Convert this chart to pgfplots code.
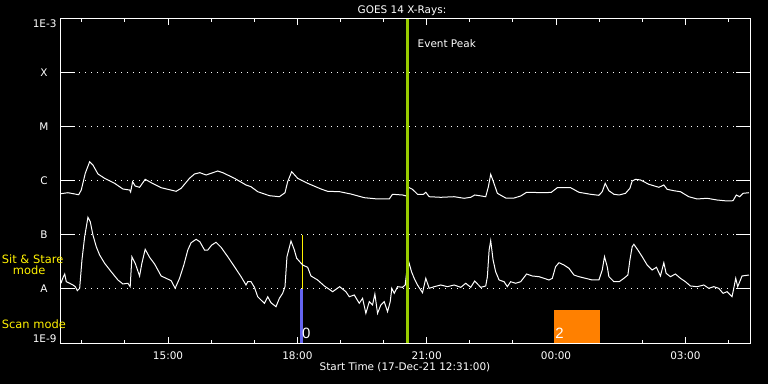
\documentclass[border=0pt]{standalone}
\usepackage{fontspec}
\setmainfont{DejaVu Sans}
\newfontfamily\digitfont{Liberation Sans}
\usepackage{pgfplots}
\pgfplotsset{compat=1.18}
\definecolor{evgreen}{RGB}{153,204,0}
\definecolor{barblue}{RGB}{100,100,240}
\definecolor{barorange}{RGB}{255,128,0}
\newcommand{\lab}{\fontsize{10.5}{12}\selectfont}
% x: hours since 17-Dec-21 00:00 ; y: log10 flux (W/m^2)
\pgfplotstableread{
h L
12.517 -6.235
12.679 -6.217
12.927 -6.254
12.987 -6.167
13.080 -5.857
13.182 -5.643
13.258 -5.704
13.374 -5.870
13.529 -5.950
13.761 -6.043
13.953 -6.148
14.108 -6.167
14.132 -6.204
14.178 -6.013
14.238 -6.093
14.340 -6.117
14.470 -5.969
14.609 -6.031
14.840 -6.124
15.188 -6.191
15.304 -6.135
15.498 -5.950
15.614 -5.870
15.737 -5.846
15.883 -5.889
16.154 -5.815
16.270 -5.846
16.541 -5.950
16.809 -6.074
16.925 -6.106
17.080 -6.198
17.351 -6.272
17.583 -6.291
17.713 -6.217
17.775 -6.013
17.868 -5.828
18.007 -5.950
18.239 -6.043
18.547 -6.148
18.702 -6.191
18.980 -6.198
19.242 -6.241
19.552 -6.309
19.860 -6.333
20.131 -6.333
20.207 -6.246
20.439 -6.259
20.532 -6.278
20.578 -6.117
20.671 -6.154
20.787 -6.246
20.926 -6.246
20.979 -6.209
21.058 -6.291
21.326 -6.302
21.637 -6.291
21.868 -6.320
22.021 -6.302
22.114 -6.259
22.223 -6.272
22.369 -6.291
22.431 -6.106
22.485 -5.876
22.547 -6.013
22.640 -6.228
22.832 -6.315
23.027 -6.315
23.180 -6.278
23.318 -6.209
23.759 -6.217
23.891 -6.209
24.030 -6.124
24.338 -6.124
24.532 -6.209
24.801 -6.246
24.995 -6.265
25.072 -6.198
25.141 -6.043
25.227 -6.180
25.343 -6.246
25.466 -6.259
25.612 -6.228
25.714 -6.135
25.767 -6.000
25.844 -5.969
25.959 -5.981
26.154 -6.061
26.386 -6.117
26.501 -6.074
26.578 -6.154
26.733 -6.180
26.886 -6.198
27.080 -6.291
27.273 -6.333
27.504 -6.320
27.736 -6.352
27.967 -6.370
28.106 -6.365
28.183 -6.259
28.262 -6.291
28.338 -6.228
28.477 -6.217
}\longchan
\pgfplotstableread{
h L
12.517 -7.894
12.556 -7.802
12.603 -7.722
12.640 -7.865
12.719 -7.894
12.795 -7.926
12.848 -7.957
12.895 -8.031
12.950 -7.987
13.003 -7.463
13.066 -7.031
13.142 -6.672
13.196 -6.754
13.258 -7.000
13.335 -7.217
13.413 -7.370
13.529 -7.524
13.682 -7.680
13.837 -7.833
13.953 -7.907
14.069 -7.894
14.122 -7.957
14.162 -7.402
14.238 -7.524
14.340 -7.759
14.393 -7.524
14.470 -7.265
14.572 -7.413
14.688 -7.537
14.840 -7.759
14.956 -7.802
15.072 -7.846
15.165 -7.987
15.267 -7.802
15.366 -7.556
15.459 -7.278
15.535 -7.143
15.651 -7.080
15.737 -7.124
15.846 -7.278
15.922 -7.278
16.015 -7.185
16.114 -7.135
16.230 -7.228
16.385 -7.402
16.541 -7.587
16.694 -7.772
16.809 -7.926
16.849 -7.865
16.925 -7.865
17.004 -7.969
17.080 -8.143
17.157 -8.204
17.236 -8.265
17.312 -8.143
17.388 -8.254
17.504 -8.328
17.583 -8.172
17.659 -8.080
17.713 -7.957
17.759 -7.402
17.852 -7.111
17.930 -7.278
17.984 -7.431
18.123 -7.556
18.239 -7.598
18.315 -7.759
18.470 -7.833
18.625 -7.944
18.741 -8.006
18.818 -8.050
18.980 -7.957
19.126 -8.050
19.205 -8.143
19.320 -8.111
19.436 -8.265
19.513 -8.172
19.589 -8.450
19.668 -8.235
19.744 -8.296
19.798 -8.093
19.860 -8.450
19.936 -8.296
20.015 -8.235
20.092 -8.420
20.154 -8.235
20.191 -7.987
20.247 -8.080
20.323 -7.957
20.439 -7.969
20.502 -7.926
20.532 -7.709
20.594 -7.524
20.648 -7.680
20.710 -7.802
20.787 -7.926
20.903 -8.069
20.979 -7.802
21.058 -7.987
21.174 -7.957
21.326 -7.926
21.481 -7.957
21.637 -7.926
21.790 -7.969
21.906 -7.894
22.021 -7.969
22.114 -7.852
22.223 -7.944
22.253 -7.969
22.369 -7.944
22.408 -7.772
22.448 -7.278
22.485 -7.106
22.540 -7.463
22.600 -7.680
22.679 -7.833
22.795 -7.865
22.871 -7.957
22.948 -7.865
23.064 -7.894
23.180 -7.865
23.318 -7.722
23.450 -7.759
23.606 -7.772
23.722 -7.802
23.837 -7.833
23.914 -7.802
23.990 -7.587
24.069 -7.513
24.185 -7.556
24.301 -7.617
24.416 -7.741
24.532 -7.772
24.685 -7.802
24.840 -7.833
24.995 -7.833
25.072 -7.648
25.125 -7.402
25.188 -7.587
25.227 -7.772
25.343 -7.865
25.466 -7.865
25.575 -7.802
25.667 -7.741
25.714 -7.463
25.767 -7.217
25.806 -7.172
25.899 -7.278
25.999 -7.402
26.114 -7.556
26.230 -7.648
26.330 -7.598
26.422 -7.759
26.501 -7.513
26.554 -7.709
26.654 -7.772
26.770 -7.722
26.886 -7.802
27.002 -7.865
27.118 -7.944
27.273 -7.957
27.428 -7.926
27.544 -7.987
27.659 -7.957
27.775 -7.987
27.875 -8.080
27.967 -8.050
28.083 -8.143
28.123 -7.987
28.169 -7.802
28.215 -7.957
28.315 -7.759
28.477 -7.741
}\shortchan
\begin{document}
\begin{tikzpicture}
\fill[black] (-61bp,-41bp) rectangle (707bp,343bp);
\begin{axis}[
  at={(0bp,0bp)}, anchor=south west,
  scale only axis, width=689bp, height=324bp,
  xmin=12.517, xmax=28.5, ymin=-9, ymax=-3,
  axis line style={white, line width=1bp},
  tick align=inside,
  major tick length=6bp, minor tick length=3.3bp,
  xtick={15,18,21,24,27},
  xticklabels={15:00,18:00,21:00,00:00,03:00},
  minor xtick={13,14,16,17,19,20,22,23,25,26,28},
  xtick style={white, line width=1bp},
  ytick={-9,-8,-7,-6,-5,-4,-3},
  yticklabels={,A,B,C,M,X,},
  ytick style={draw=none},
  ymajorgrids,
  major grid style={white, line width=1bp, dash pattern=on 1bp off 5bp},
  tick label style={white, font=\lab, inner sep=0pt},
  xticklabel style={anchor=base, yshift=-16.3bp},
  yticklabel style={anchor=center, xshift=-17bp},
]
\pgfplotsinvokeforeach{-8,-7,-6,-5,-4}{
  \addplot[white, line width=1bp, forget plot] coordinates {(12.517,#1) (12.841,#1)};
  \addplot[white, line width=1bp, forget plot] coordinates {(28.176,#1) (28.5,#1)};
}
\addplot[fill=barorange, draw=none] coordinates {(23.960,-9) (25.019,-9) (25.019,-8.389) (23.960,-8.389)};
\addplot[fill=barblue, draw=none] coordinates {(18.065,-9) (18.140,-9) (18.140,-8) (18.065,-8)};
\addplot[yellow, line width=1bp] coordinates {(18.130,-8) (18.130,-7)};
\addplot[white, line width=1bp] table[x=h, y=L] {\longchan};
\addplot[white, line width=1bp] table[x=h, y=L] {\shortchan};
\addplot[evgreen, line width=3bp] coordinates {(20.555,-9) (20.555,-3)};
\node[white, anchor=base west, inner sep=0pt, font=\lab] at (axis cs:20.787,-3.524) {Event Peak};
\node[white, anchor=base west, inner sep=0pt, font=\digitfont\fontsize{15}{16}\selectfont] at (axis cs:18.107,-8.913) {0};
\node[white, anchor=base west, inner sep=0pt, font=\digitfont\fontsize{15}{16}\selectfont] at (axis cs:23.983,-8.913) {2};
\end{axis}
\node[white, anchor=base, inner sep=0pt, font=\lab] at (341bp,329bp) {GOES 14 X-Rays:};
\node[white, anchor=base, inner sep=0pt, font=\lab] at (344bp,-27.5bp) {Start Time (17-Dec-21 12:31:00)};
\node[white, anchor=base east, inner sep=0pt, font=\lab] at (-4.3bp,315.7bp) {1E-3};
\node[white, anchor=base east, inner sep=0pt, font=\lab] at (-4.3bp,0.3bp) {1E-9};
\node[yellow, anchor=base west, inner sep=0pt, font=\fontsize{11.5}{12}\selectfont] at (-59.3bp,79.7bp) {Sit \& Stare};
\node[yellow, anchor=base west, inner sep=0pt, font=\fontsize{11.5}{12}\selectfont] at (-48.3bp,68bp) {mode};
\node[yellow, anchor=base west, inner sep=0pt, font=\fontsize{11.5}{12}\selectfont] at (-59.3bp,14.7bp) {Scan mode};
\pgfresetboundingbox
\useasboundingbox (-61bp,-41bp) rectangle (707bp,343bp);
\end{tikzpicture}
\end{document}
